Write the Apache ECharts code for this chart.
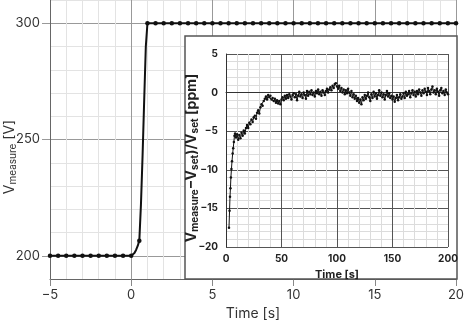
<!DOCTYPE html>
<html>
<head>
<meta charset="utf-8">
<script src="https://cdn.jsdelivr.net/npm/echarts@6/dist/echarts.min.js"></script>
<style>
html, body { margin: 0; padding: 0; background: #fff; }
#main { width: 464px; height: 321px; }
</style>
</head>
<body>
<div id="main"></div>
<script>
// main plot: step from 200 V to 300 V
const stepTime = [-5, -4.5, -4, -3.5, -3, -2.5, -2, -1.5, -1, -0.5, 0,
    0.1, 0.2, 0.3, 0.4, 0.5, 0.6, 0.7, 0.8, 0.9, 1,
    1.5, 2, 2.5, 3, 3.5, 4, 4.5, 5, 5.5, 6, 6.5, 7, 7.5, 8, 8.5, 9, 9.5, 10,
    10.5, 11, 11.5, 12, 12.5, 13, 13.5, 14, 14.5, 15, 15.5, 16, 16.5, 17, 17.5, 18, 18.5, 19, 19.5, 20];
const stepVolt = [200, 200, 200, 200, 200, 200, 200, 200, 200, 200, 200,
    200.4, 201.2, 202.5, 204.2, 206.5, 222, 243, 267, 290, 300,
    300, 300, 300, 300, 300, 300, 300, 300, 300, 300, 300, 300, 300, 300, 300, 300, 300, 300,
    300, 300, 300, 300, 300, 300, 300, 300, 300, 300, 300, 300, 300, 300, 300, 300, 300, 300, 300, 300];

// inset: relative deviation in ppm
const riseTime = [2.7, 3.2, 3.6, 4.0, 4.4, 4.9, 5.4, 6.0, 6.5, 7.1, 7.6, 8.2];
const riseValue = [-17.5, -15.3, -13.5, -12.4, -11.0, -9.9, -8.9, -7.9, -7.2, -6.4, -5.6, -5.3];
const settleStart = 9; // s, one sample per second
const settleValues = [
    -5.8, -5.4, -6.1, -5.5, -5.9, -5.2, -5.6, -4.9, -5.3, -4.6,
    -4.2, -4.6, -3.9, -4.1, -3.5, -3.8, -3.2, -3.0, -3.4, -2.6,
    -2.3, -2.7, -1.9, -1.5, -1.7, -1.1, -0.8, -0.5, -0.9, -0.3,
    -0.6, -0.4, -0.9, -0.7, -1.1, -0.8, -1.3, -1.0, -1.4, -1.1,
    -1.5, -0.9, -0.6, -1.0, -0.4, -0.8, -0.3, -0.7, -0.2, -0.5,
    -0.9, -0.3, -0.1, -0.6, -0.2, -1.0, -0.4, 0.1, -0.5, -0.2,
    -0.7, 0.0, -0.3, -0.8, 0.2, -0.4, 0.1, -0.2, 0.3, -0.3,
    0.0, -0.5, 0.2, -0.1, 0.4, -0.2, 0.1, -0.4, 0.3, 0.0,
    -0.3, 0.2, 0.5, 0.0, 0.4, 0.7, 0.3, 0.9, 0.6, 1.1,
    1.2, 0.8, 0.5, 0.9, 0.2, 0.6, 0.0, 0.4, -0.2, 0.3,
    -0.1, 0.5, 0.0, -0.4, 0.2, -0.6, -0.2, -0.8, -0.4, -1.1,
    -0.7, -1.3, -0.9, -1.5, -0.6, -1.0, -0.3, -0.8, -0.4, 0.0,
    -0.6, -1.1, -0.2, -0.7, 0.1, -0.5, -0.1, -0.8, -0.3, 0.3,
    -0.4, 0.0, -0.6, -0.2, -0.9, -0.3, 0.2, -0.5, -0.1, -0.7,
    -0.4, -0.9, -0.5, -1.2, -0.7, -0.3, -1.0, -0.6, -0.2, -0.8,
    -0.5, -0.1, -0.7, 0.1, -0.4, -0.2, 0.2, -0.6, -0.1, 0.3,
    -0.3, 0.1, -0.5, 0.2, -0.2, 0.4, 0.0, -0.4, 0.3, -0.1,
    0.5, 0.1, -0.3, 0.6, 0.2, -0.2, 0.4, 0.8, 0.0, 0.3,
    -0.2, 0.5, 0.1, -0.4, 0.3, 0.6, -0.1, 0.2, -0.3, 0.4,
    0.0, -0.2
];

const FONT = 'Inter';
const minus = v => String(v).replace('-', '\u2212');

const stepData = stepTime.map((t, i) => [t, stepVolt[i]]);
const insetData = riseTime.map((t, i) => [t, riseValue[i]])
    .concat(settleValues.map((v, i) => [settleStart + i, v]));

const chart = echarts.init(document.getElementById('main'), null, { renderer: 'canvas' });

const option = {
    animation: false,
    backgroundColor: '#fff',
    grid: [
        { left: 50, right: 8, top: 0, bottom: 42, containLabel: false, outerBoundsMode: 'none' },
        { left: 226, right: 16, top: 54, bottom: 74, z: 4, containLabel: false, outerBoundsMode: 'none' }
    ],
    xAxis: [
        {
            gridIndex: 0, type: 'value', min: -5, max: 20, interval: 5,
            name: 'Time [s]', nameLocation: 'middle', nameGap: 27,
            nameTextStyle: { fontFamily: FONT, fontSize: 14, color: '#333' },
            axisLine: { lineStyle: { color: '#666', width: 1 } },
            axisTick: { show: true, inside: false, length: 7, lineStyle: { color: '#888' } },
            axisLabel: { margin: 10, fontFamily: FONT, fontSize: 13, color: '#333', formatter: minus },
            splitLine: { show: true, lineStyle: { color: '#999', width: 1 } },
            minorTick: { show: false, splitNumber: 5 },
            minorSplitLine: { show: true, lineStyle: { color: '#e3e3e3', width: 1 } }
        },
        {
            gridIndex: 1, type: 'value', min: 0, max: 200, interval: 50, z: 4,
            name: 'Time [s]', nameLocation: 'middle', nameGap: 22,
            nameTextStyle: { fontFamily: FONT, fontSize: 11, fontWeight: 'bold', color: '#222' },
            axisLine: { lineStyle: { color: '#333', width: 1 } },
            axisTick: { show: false },
            axisLabel: { margin: 7, fontFamily: FONT, fontSize: 10, fontWeight: 'bold', color: '#222' },
            splitLine: { show: true, lineStyle: { color: '#555', width: 1 } },
            minorTick: { show: false, splitNumber: 5 },
            minorSplitLine: { show: true, lineStyle: { color: '#dcdcdc', width: 1 } }
        }
    ],
    yAxis: [
        {
            // grid lines for the main plot
            gridIndex: 0, type: 'value', min: 190, max: 310, interval: 10,
            axisLine: { show: false }, axisTick: { show: false }, axisLabel: { show: false },
            splitLine: { show: true, lineStyle: { color: ['#e3e3e3', '#999', '#e3e3e3', '#e3e3e3', '#e3e3e3'], width: 1 } }
        },
        {
            // labels of the main plot
            gridIndex: 0, type: 'value', min: 190, max: 310, position: 'left',
            axisLine: { show: true, lineStyle: { color: '#666', width: 1 } },
            axisTick: { show: true, length: 8, customValues: [200, 250, 300], lineStyle: { color: '#999' } },
            axisLabel: { margin: 10, fontFamily: FONT, fontSize: 13, color: '#333', customValues: [200, 250, 300] },
            splitLine: { show: false }
        },
        {
            gridIndex: 1, type: 'value', min: -20, max: 5, interval: 5, z: 4,
            axisLine: { show: true, lineStyle: { color: '#333', width: 1 } },
            axisTick: { show: false },
            axisLabel: { margin: 8, fontFamily: FONT, fontSize: 10, fontWeight: 'bold', color: '#222', formatter: minus },
            splitLine: { show: true, lineStyle: { color: '#555', width: 1 } },
            minorTick: { show: false, splitNumber: 5 },
            minorSplitLine: { show: true, lineStyle: { color: '#dcdcdc', width: 1 } }
        }
    ],
    graphic: [
        {
            type: 'rect', z: 3,
            shape: { x: 185, y: 36, width: 272, height: 243 },
            style: { fill: '#fff', stroke: '#555', lineWidth: 1.5 }
        },
        {
            type: 'text', z: 5, x: 10, y: 157, rotation: Math.PI / 2,
            style: {
                text: '{v|V}{s|measure}{v| [V]}',
                align: 'center', verticalAlign: 'middle',
                rich: {
                    v: { fontFamily: FONT, fontSize: 14, fill: '#333', lineHeight: 16 },
                    s: { fontFamily: FONT, fontSize: 10, fill: '#333', lineHeight: 16, verticalAlign: 'bottom', padding: [4, 0, 0, 0] }
                }
            }
        },
        {
            type: 'text', z: 6, x: 192, y: 158, rotation: Math.PI / 2,
            style: {
                text: '{v|V}{s|measure}{v|\u2212V}{s|set}{v|)/V}{s|set}{v| [ppm]}',
                align: 'center', verticalAlign: 'middle',
                rich: {
                    v: { fontFamily: FONT, fontSize: 14, fontWeight: 'bold', fill: '#222', lineHeight: 16 },
                    s: { fontFamily: FONT, fontSize: 10, fontWeight: 'bold', fill: '#222', lineHeight: 16, verticalAlign: 'bottom', padding: [4, 0, 0, 0] }
                }
            }
        }
    ],
    series: [
        {
            type: 'line', xAxisIndex: 0, yAxisIndex: 0, z: 2,
            data: stepData,
            symbol: 'circle',
            symbolSize: v => Number.isInteger(v[0] * 2) ? 4.5 : 0,
            itemStyle: { color: '#111' },
            lineStyle: { color: '#111', width: 2 }
        },
        {
            type: 'line', xAxisIndex: 1, yAxisIndex: 2, z: 7,
            data: insetData,
            symbol: 'circle', symbolSize: 2.5,
            itemStyle: { color: '#111' },
            lineStyle: { color: '#111', width: 1 }
        }
    ]
};

chart.setOption(option);
</script>
</body>
</html>
